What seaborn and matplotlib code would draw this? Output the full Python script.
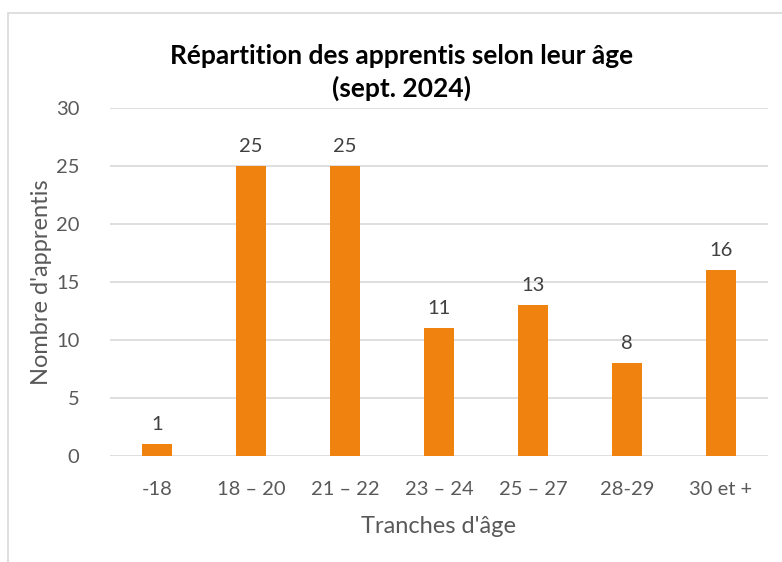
import pandas as pd
import seaborn as sns
import matplotlib.pyplot as plt
from matplotlib.patches import Rectangle

# Data
tranches = ["-18", "18 – 20", "21 – 22", "23 – 24", "25 – 27", "28-29", "30 et +"]
apprentis = [1, 25, 25, 11, 13, 8, 16]

df = pd.DataFrame({"tranche": tranches, "nb": apprentis})

sns.set_theme(style="white")
plt.rcParams['font.family'] = ['Lato', 'DejaVu Sans']

grey = "#595959"
orange = "#F0820F"

fig = plt.figure(figsize=(7.82, 5.62), dpi=100)
ax = fig.add_axes([0.1407, 0.1886, 0.8413, 0.6192])

sns.barplot(data=df, x="tranche", y="nb", color=orange, width=0.32,
            saturation=1, linewidth=0, ax=ax, zorder=3)

# Value labels above bars
ax.bar_label(ax.containers[0], labels=[str(v) for v in apprentis],
             padding=8, fontsize=14.5, color="#404040")

ax.set_ylim(0, 30)
ax.set_yticks(range(0, 31, 5))
ax.set_xlim(-0.5, len(tranches) - 0.5)
ax.yaxis.grid(True, color="#d9d9d9", linewidth=1.2, zorder=0)
ax.set_axisbelow(True)
for s in ax.spines.values():
    s.set_visible(False)
ax.tick_params(axis="both", length=0, labelsize=14.5, labelcolor=grey)
ax.tick_params(axis="x", pad=18)
ax.tick_params(axis="y", pad=22)

ax.set_xlabel("Tranches d'âge", fontsize=17, color=grey, labelpad=13)
ax.set_ylabel("Nombre d'apprentis", fontsize=17, color=grey, labelpad=3)

# Title
fig.text(0.513, 0.900, "Répartition des apprentis selon leur âge",
         ha="center", va="center", fontsize=19, fontweight="bold", color="black")
fig.text(0.513, 0.843, "(sept. 2024)",
         ha="center", va="center", fontsize=19, fontweight="bold", color="black")

# Chart frame (cropped on right/bottom)
fig.patches.append(Rectangle((8 / 782, -0.1), 1.2, 1 - 13 / 562 + 0.1,
                             transform=fig.transFigure, fill=False,
                             edgecolor="#d9d9d9", linewidth=1.2))

fig.savefig("out.png", dpi=100)
